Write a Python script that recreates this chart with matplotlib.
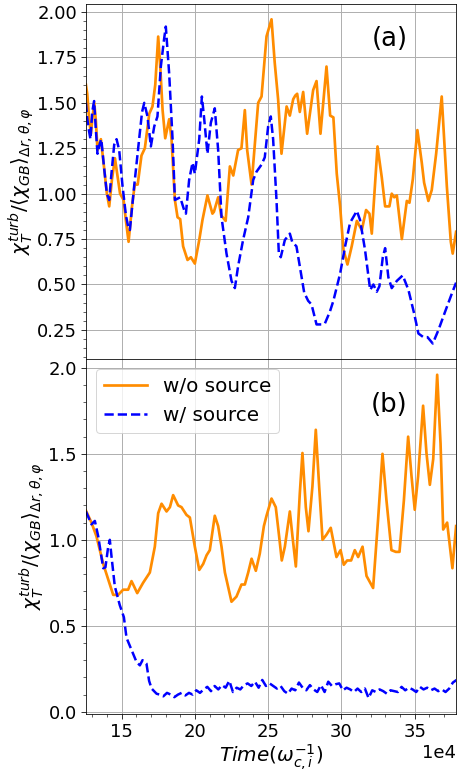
import numpy as np
import matplotlib.pyplot as plt

# time in units of 1e4 / omega_ci

# (a) top panel
t_a_nosrc = [12.57, 12.66, 12.78, 12.91, 13.02, 13.14, 13.25, 13.36, 13.59, 13.8, 14.0, 14.16,
             14.35, 14.55, 14.72, 14.9, 15.14, 15.3, 15.48, 15.7, 15.9, 16.1, 16.36, 16.59,
             16.89, 17.11, 17.3, 17.5, 17.64, 17.8, 17.98, 18.25, 18.41, 18.64, 18.82, 19.0,
             19.2, 19.5, 19.73, 20.0, 20.3, 20.52, 20.86, 21.2, 21.3, 21.59, 21.8, 22.1,
             22.39, 22.62, 22.95, 23.18, 23.41, 23.57, 23.87, 24.32, 24.55, 24.89, 25.23, 25.45,
             25.68, 25.91, 26.26, 26.48, 26.71, 26.85, 26.98, 27.16, 27.39, 27.66, 28.07, 28.3,
             28.57, 28.98, 29.23, 29.45, 29.68, 29.91, 30.14, 30.41, 30.7, 31.05, 31.39, 31.68,
             31.91, 32.07, 32.46, 32.75, 32.98, 33.27, 33.43, 33.6, 33.78, 34.12, 34.46, 34.64,
             34.87, 35.18, 35.48, 35.64, 35.93, 36.16, 36.46, 36.84, 37.19, 37.46, 37.59, 37.82]
chi_a_nosrc = [1.60, 1.55, 1.42, 1.33, 1.42, 1.50, 1.40, 1.24, 1.30, 1.15, 1.00, 0.93,
               1.08, 1.195, 1.10, 1.00, 0.965, 0.85, 0.735, 0.92, 1.05, 1.05, 1.21, 1.25,
               1.44, 1.48, 1.60, 1.865, 1.70, 1.46, 1.305, 1.41, 1.30, 0.965, 0.87, 0.86,
               0.71, 0.635, 0.65, 0.615, 0.745, 0.855, 0.99, 0.89, 0.90, 0.98, 0.88, 0.85,
               1.15, 1.10, 1.24, 1.25, 1.46, 1.24, 1.05, 1.50, 1.535, 1.866, 1.96, 1.72,
               1.52, 1.22, 1.48, 1.43, 1.52, 1.54, 1.55, 1.45, 1.56, 1.33, 1.57, 1.62,
               1.33, 1.70, 1.43, 1.42, 1.11, 0.93, 0.69, 0.61, 0.71, 0.85, 0.80, 0.91,
               0.89, 0.78, 1.26, 1.09, 0.93, 0.93, 1.00, 0.98, 0.99, 0.75, 0.96, 0.95,
               1.08, 1.35, 1.17, 1.06, 0.96, 1.02, 1.22, 1.535, 1.04, 0.735, 0.67, 0.79]

t_a_src = [12.57, 12.65, 12.75, 12.88, 13.0, 13.13, 13.25, 13.36, 13.5, 13.62, 13.8, 14.0,
           14.16, 14.3, 14.5, 14.66, 14.84, 15.07, 15.3, 15.45, 15.57, 15.86, 16.2, 16.4,
           16.55, 16.77, 17.0, 17.23, 17.45, 17.68, 17.9, 18.02, 18.25, 18.48, 18.64, 19.0,
           19.27, 19.39, 19.61, 19.84, 20.0, 20.3, 20.48, 20.64, 20.86, 21.09, 21.36, 21.59,
           21.82, 22.16, 22.5, 22.73, 22.95, 23.29, 23.64, 23.98, 24.2, 24.55, 24.77, 25.0,
           25.18, 25.34, 25.57, 25.73, 25.86, 26.14, 26.48, 26.64, 26.93, 27.16, 27.46, 27.73,
           27.96, 28.3, 28.64, 28.87, 29.21, 29.45, 29.91, 30.25, 30.59, 31.05, 31.27, 31.61,
           31.96, 32.18, 32.41, 32.59, 32.82, 32.98, 33.2, 33.43, 33.78, 34.18, 34.57, 34.96,
           35.25, 35.59, 35.87, 36.23, 36.62, 37.07, 37.53, 37.82]
chi_a_src = [1.50, 1.42, 1.36, 1.30, 1.45, 1.51, 1.35, 1.22, 1.27, 1.30, 1.15, 1.00,
             0.965, 1.10, 1.27, 1.30, 1.24, 1.04, 0.88, 0.82, 0.80, 1.04, 1.30, 1.45,
             1.50, 1.425, 1.26, 1.37, 1.425, 1.70, 1.85, 1.92, 1.66, 1.30, 0.965, 0.98,
             0.91, 0.89, 1.075, 1.17, 1.11, 1.30, 1.535, 1.41, 1.22, 1.39, 1.47, 1.24,
             0.87, 0.67, 0.52, 0.48, 0.60, 0.745, 0.87, 1.075, 1.12, 1.16, 1.20, 1.37,
             1.425, 1.30, 0.965, 0.67, 0.65, 0.745, 0.78, 0.735, 0.71, 0.60, 0.455, 0.41,
             0.39, 0.28, 0.28, 0.285, 0.35, 0.41, 0.56, 0.71, 0.84, 0.905, 0.855, 0.69,
             0.47, 0.50, 0.46, 0.49, 0.65, 0.70, 0.54, 0.48, 0.52, 0.55, 0.47, 0.34,
             0.23, 0.21, 0.21, 0.175, 0.25, 0.35, 0.45, 0.51]

# (b) bottom panel
t_b_nosrc = [12.57, 12.95, 13.29, 13.75, 14.09, 14.43, 14.77, 15.11, 15.45, 15.68, 15.85, 16.07,
             16.47, 16.93, 17.27, 17.5, 17.73, 18.07, 18.3, 18.52, 18.86, 19.09, 19.43, 19.66,
             20.0, 20.3, 20.57, 20.8, 21.02, 21.36, 21.59, 21.82, 22.05, 22.5, 22.84, 23.18,
             23.41, 23.64, 23.87, 24.16, 24.43, 24.71, 24.89, 25.23, 25.52, 25.75, 25.93, 26.14,
             26.48, 26.66, 26.89, 27.16, 27.34, 27.57, 27.75, 28.02, 28.25, 28.48, 28.71, 28.98,
             29.27, 29.43, 29.66, 29.94, 30.16, 30.39, 30.66, 30.91, 31.14, 31.44, 31.71, 32.16,
             32.5, 32.8, 33.07, 33.41, 33.71, 33.96, 34.26, 34.55, 34.78, 35.0, 35.23, 35.57,
             35.8, 36.03, 36.26, 36.53, 36.76, 36.94, 37.21, 37.57, 37.82]
chi_b_nosrc = [1.17, 1.10, 1.02, 0.86, 0.77, 0.68, 0.68, 0.71, 0.71, 0.76, 0.73, 0.69,
               0.75, 0.81, 0.96, 1.155, 1.21, 1.165, 1.19, 1.26, 1.20, 1.19, 1.145, 1.13,
               0.96, 0.825, 0.86, 0.91, 0.94, 1.14, 1.08, 0.96, 0.81, 0.64, 0.67, 0.74,
               0.74, 0.81, 0.89, 0.82, 0.92, 1.08, 1.14, 1.24, 1.19, 1.02, 0.88, 0.96,
               1.165, 1.02, 0.845, 1.27, 1.505, 1.19, 1.05, 1.31, 1.64, 1.31, 1.00, 1.03,
               1.07, 1.00, 0.90, 0.94, 0.855, 0.88, 0.88, 0.94, 0.90, 0.96, 0.79, 0.72,
               1.12, 1.50, 1.23, 0.94, 0.93, 0.93, 1.23, 1.60, 1.37, 1.175, 1.37, 1.78,
               1.505, 1.32, 1.47, 1.96, 1.56, 1.06, 1.10, 0.835, 1.08]

t_b_src_head = [12.57, 12.95, 13.18, 13.41, 13.75, 13.9, 14.09, 14.2, 14.32, 14.54, 14.88, 15.16,
                15.34, 15.68, 16.02, 16.25, 16.43, 16.7, 16.88, 17.05, 17.39]
chi_b_src_head = [1.165, 1.09, 1.11, 1.02, 0.835, 0.84, 0.96, 1.00, 0.90, 0.73, 0.62, 0.55,
                  0.43, 0.36, 0.29, 0.27, 0.30, 0.28, 0.18, 0.135, 0.105]
t_b_src_tail = np.arange(17.6, 37.86, 0.25)
chi_b_src_tail = [0.10, 0.09, 0.11, 0.10, 0.085, 0.10, 0.11, 0.095, 0.11, 0.10,
                  0.125, 0.11, 0.13, 0.145, 0.12, 0.15, 0.13, 0.155, 0.14, 0.18,
                  0.115, 0.14, 0.13, 0.155, 0.165, 0.15, 0.175, 0.14, 0.185, 0.15,
                  0.165, 0.15, 0.135, 0.15, 0.12, 0.105, 0.135, 0.125, 0.17, 0.14,
                  0.125, 0.155, 0.13, 0.115, 0.155, 0.115, 0.175, 0.15, 0.16, 0.165,
                  0.125, 0.14, 0.13, 0.115, 0.135, 0.115, 0.135, 0.08, 0.125, 0.115,
                  0.13, 0.12, 0.105, 0.125, 0.12, 0.115, 0.145, 0.125, 0.14, 0.13,
                  0.115, 0.145, 0.13, 0.14, 0.125, 0.135, 0.12, 0.13, 0.115, 0.135,
                  0.17, 0.185]

t_b_src = np.concatenate([t_b_src_head, t_b_src_tail])
chi_b_src = np.concatenate([chi_b_src_head, chi_b_src_tail])

ylab = r'$\chi_T^{turb}/\langle\chi_{GB}\rangle_{\Delta r,\theta,\varphi}$'

# dpi 72 -> 1pt = 1px
fig, (ax0, ax1) = plt.subplots(nrows=2, ncols=1, sharex=True, figsize=(457 / 72, 774 / 72), dpi=72)
fig.subplots_adjust(left=0.188, right=0.998, top=0.995, bottom=0.0775, hspace=0)

ax0.plot(np.array(t_a_nosrc) * 1e4, chi_a_nosrc, color='darkorange', lw=2.7, label='w/o source')
ax0.plot(np.array(t_a_src) * 1e4, chi_a_src, 'b--', lw=2.5, label='w/ source')
ax0.set_ylim(0.09, 2.045)
ax0.set_yticks([0.25, 0.5, 0.75, 1.0, 1.25, 1.5, 1.75, 2.0])
ax0.set_ylabel(ylab, fontsize=20, labelpad=1)
ax0.text(0.82, 0.9, '(a)', transform=ax0.transAxes, fontsize=26, ha='center', va='center')

ax1.plot(np.array(t_b_nosrc) * 1e4, chi_b_nosrc, color='darkorange', lw=2.7, label='w/o source')
ax1.plot(t_b_src * 1e4, chi_b_src, 'b--', lw=2.5, label='w/ source')
ax1.set_ylim(-0.013, 2.052)
ax1.set_yticks([0.0, 0.5, 1.0, 1.5, 2.0])
ax1.set_ylabel(ylab, fontsize=20, labelpad=1)
ax1.set_xlabel(r'$Time(\omega_{c,i}^{-1})$', fontsize=20, labelpad=2)
ax1.text(0.82, 0.87, '(b)', transform=ax1.transAxes, fontsize=26, ha='center', va='center')
ax1.legend(loc='upper left', fontsize=20, handlelength=2.15)

ax1.set_xlim(12.57e4, 37.82e4)
ax1.ticklabel_format(axis='x', style='sci', scilimits=(4, 4))

for ax in (ax0, ax1):
    ax.minorticks_on()
    ax.grid(which='major', lw=1)
    ax.tick_params(which='major', labelsize=18, length=5, pad=4)
    ax.tick_params(which='minor', length=3)
ax1.xaxis.get_offset_text().set_fontsize(18)

plt.savefig('out.png', dpi=72)
